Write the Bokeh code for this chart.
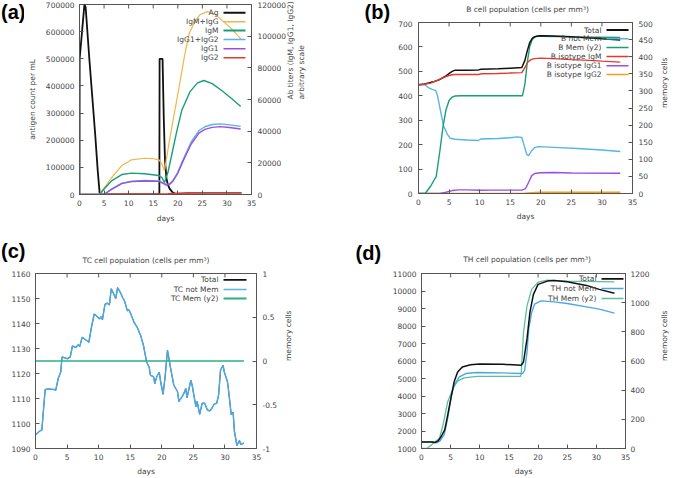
import math
from bokeh.plotting import figure
from bokeh.models import Range1d, LinearAxis, FixedTicker, Label, Arrow, NumeralTickFormatter, Spacer
from bokeh.layouts import column, row
from bokeh.embed import file_html
from bokeh.resources import INLINE

# ---------------- data ----------------
x_ticks = [0, 5, 10, 15, 20, 25, 30, 35]

# (a) antigen & antibodies
ag_days = [0, 0.03, 1.0, 1.25, 2.0, 2.6, 3.2, 3.7, 4.1, 4.4, 16.25, 16.3, 16.9, 17.15, 17.4, 17.7, 18.0, 18.4, 19.0, 19.5, 20.2, 21.0, 33.0]
ag_vals = [0, 500000, 700000, 690000, 500000, 360000, 220000, 90000, 5000, 0, 0, 500000, 500000, 280000, 125000, 58000, 35000, 20000, 7000, 2500, 500, 0, 0]
igmigg_days = [0, 4.0, 5.0, 6.6, 8.6, 10.6, 13.2, 15.0, 16.2, 16.8, 17.3, 18.3, 19.4, 20.5, 21.4, 22.3, 23.5, 24.5, 26.0, 27.5, 29.0, 31.0, 32.8]
igmigg_vals = [0, 0, 4000, 10900, 18300, 21900, 22900, 22600, 21900, 19000, 15000, 34000, 53000, 72000, 88000, 101500, 109500, 113500, 115500, 114000, 110000, 104500, 98300]
igm_days = [0, 4.1, 5.0, 6.6, 8.6, 10.6, 13.2, 16.2, 16.8, 17.3, 18.0, 18.9, 19.8, 20.8, 22.5, 24.0, 25.3, 27.0, 29.0, 31.0, 32.8]
igm_vals = [0, 0, 3500, 8800, 12600, 13500, 13100, 12000, 10500, 7500, 14000, 27000, 40000, 53000, 65000, 70500, 72000, 70000, 65500, 60500, 55600]
igg12_days = [0, 4.9, 5.5, 6.6, 8.6, 10.6, 13.2, 16.2, 17.0, 17.7, 18.3, 19.0, 20.0, 21.0, 22.7, 24.3, 25.5, 27.0, 28.6, 30.5, 32.8]
igg12_vals = [0, 0, 1200, 3600, 7200, 8400, 8800, 8600, 7300, 6300, 6600, 8800, 14000, 21500, 33000, 40400, 42800, 44200, 44600, 44000, 43000]
igg1_vals = [0, 0, 1100, 3400, 6900, 8100, 8500, 8300, 7000, 6000, 6300, 8400, 13400, 20600, 31700, 38800, 41100, 42400, 42900, 42300, 41400]
igg2_days = [0, 5, 10, 16, 18, 20, 22, 25, 33]
igg2_vals = [0, 0, 300, 400, 450, 800, 1100, 1200, 1200]

# (b) B cell population
btot_days = [0, 1, 2, 2.5, 3.35, 4.4, 5.2, 5.6, 6.0, 8, 9.8, 10.2, 13, 15, 16.9, 17.4, 17.8, 18.2, 18.6, 19.0, 19.5, 20, 22, 25, 28, 30, 33]
btot_vals = [445, 448, 455, 458, 465, 480, 495, 501, 505, 505, 506, 509, 511, 513, 516, 545, 585, 618, 635, 642, 645, 646, 645, 642, 637, 633, 628]
bnm_days = [0, 1, 1.7, 2.3, 2.8, 3.1, 3.6, 4.1, 4.7, 5.2, 6.0, 8, 9.8, 10.2, 13, 15, 16.1, 16.9, 17.3, 17.7, 18.0, 18.5, 19.0, 19.6, 20.5, 23, 26, 30, 33]
bnm_vals = [445, 445, 432, 425, 422, 402, 338, 277, 243, 226, 222, 219, 217, 223, 225, 228, 232, 229, 195, 160, 155, 175, 188, 192, 191, 188, 184, 178, 172]
bmem_days = [0, 1.1, 2, 2.9, 3.5, 4.0, 4.5, 5.0, 5.5, 6.0, 7, 17.0, 17.4, 17.8, 18.2, 18.6, 19.0, 19.5, 20, 25, 33]
bmem_vals = [0, 0, 22, 50, 125, 195, 245, 272, 282, 285, 286, 286, 320, 385, 430, 450, 457, 460, 460, 458, 456]
bigm_days = [0, 1, 2, 3, 4, 5, 5.5, 6, 8, 9.8, 10.2, 13, 15, 16.9, 17.4, 17.8, 18.2, 18.6, 19.0, 19.5, 20, 22, 25, 28, 30, 33]
bigm_vals = [445, 447, 452, 462, 474, 483, 486, 487, 487, 487, 490, 491, 493, 495, 515, 535, 545, 550, 552, 553, 554, 552, 548, 545, 542, 538]
bigg1_days = [0, 3.5, 4.5, 5.5, 6.5, 8, 10, 12, 16.9, 17.5, 18.0, 18.5, 19.0, 20, 22, 25, 33]
bigg1_vals = [0, 0, 5, 12, 15, 15, 13, 14, 14, 20, 45, 72, 82, 85, 86, 84, 83]
bigg2_days = [0, 17, 18, 19, 20, 33]
bigg2_vals = [0, 0, 2, 4, 5, 5]

# (c) TC cell population
tc_days = [0, 0.74, 1.0, 1.53, 2.0, 2.95, 3.2, 3.6, 4.0, 4.2, 4.6, 5.06, 5.5, 5.85, 6.4, 6.75, 7.0, 7.4, 8.1, 8.45,
           8.86, 9.3, 9.8, 10.1, 10.4, 10.6, 11.0, 11.4, 11.7, 12.0, 12.3, 12.7, 13.0, 13.4, 13.8, 14.1, 14.55, 14.8,
           15.1, 15.6, 16.1, 16.65, 17.1, 17.6, 18.0, 18.2, 18.7, 18.9, 19.2, 19.6, 19.8, 20.2, 20.5, 20.9, 21.1,
           21.4, 21.9, 22.5, 22.7, 23.2, 23.5, 23.8, 24.0, 24.6, 24.8, 25.4, 25.6, 26.0, 26.4, 26.8, 27.2, 27.6,
           28.0, 28.3, 28.7, 29.0, 29.3, 29.7, 29.9, 30.4, 30.6, 31.0, 31.3, 31.5, 31.9, 32.3, 32.5, 32.7, 33.0]
tc_vals = [1095.5, 1097.1, 1097.3, 1113.6, 1113.8, 1113.6, 1113.3, 1118.0, 1120.6, 1126.6, 1126.3, 1125.9, 1126.6,
           1131.0, 1130.4, 1131.5, 1130.8, 1134.5, 1133.2, 1132.5, 1138.5, 1143.8, 1142.8, 1141.8, 1142.7, 1141.5,
           1147.7, 1148.1, 1147.4, 1153.9, 1152.3, 1150.0, 1154.3, 1152.6, 1150.4, 1149.0, 1145.1, 1145.5, 1143.8,
           1140.5, 1138.5, 1135.2, 1131.2, 1124.6, 1122.6, 1119.3, 1118.7, 1116.0, 1118.7, 1120.6, 1117.0, 1111.7,
           1118.0, 1129.2, 1126.6, 1122.0, 1115.4, 1112.7, 1108.8, 1110.7, 1112.0, 1114.0, 1110.3, 1117.3, 1115.4,
           1106.8, 1108.8, 1103.7, 1108.1, 1108.1, 1105.5, 1105.0, 1106.4, 1107.8, 1108.1, 1111.4, 1121.3, 1123.3,
           1120.6, 1116.7, 1112.7, 1103.5, 1104.5, 1096.9, 1091.2, 1093.2, 1091.6, 1091.8, 1092.2]
tcmem_days = [0, 33]
tcmem_vals = [0, 0]

# (d) TH cell population
thtot_days = [0, 1.8, 2.3, 2.9, 3.4, 4.0, 4.5, 5.1, 5.6, 6.2, 7.0, 8.4, 10.0, 13.9, 17.1, 17.5, 18.1, 18.6, 19.2, 20.0, 21.6, 22.7, 25.0, 28.3, 30.5, 33.1]
thtot_vals = [1377, 1377, 1340, 1453, 1700, 2075, 2925, 3960, 4810, 5377, 5660, 5790, 5830, 5811, 5755, 5943, 7264, 8774, 9811, 10377, 10566, 10604, 10528, 10320, 10094, 9868]
thnm_days = [0, 1.9, 2.6, 3.15, 3.9, 4.5, 5.1, 5.6, 6.5, 7.6, 9.5, 13.9, 17.0, 17.4, 17.7, 18.1, 18.4, 18.9, 19.4, 20.5, 22.7, 25.0, 28.3, 30.5, 33.1]
thnm_vals = [1377, 1377, 1320, 1415, 1792, 2736, 3962, 4623, 5094, 5283, 5340, 5321, 5283, 5300, 5472, 6509, 7830, 8774, 9245, 9434, 9377, 9283, 9094, 8962, 8736]
thmem_days = [0, 0.94, 2.3, 3.1, 3.7, 4.5, 5.4, 6.2, 7.3, 9.5, 17.0, 17.1, 17.5, 18.1, 18.9, 20.0, 21.6, 25.0, 33.1]
thmem_vals = [0, 0, 45, 72, 163, 321, 412, 462, 484, 494, 494, 510, 797, 978, 1091, 1141, 1155, 1148, 1143]

# ---------------- style ----------------
FONT = "DejaVu Sans"
FS = "7.5px"
TXT = "#444444"
AXC = "#555555"
BLACK = "#111111"
ORANGE = "#efb648"
GREEN = "#17a078"
LBLUE = "#56b4e9"
PURPLE = "#9a4fe0"
RED = "#e5392a"


def style_axis(ax, ticks, fmt=None, label=None, standoff=5, lstandoff=5):
    ax.ticker = FixedTicker(ticks=ticks)
    ax.major_tick_in = 4
    ax.major_tick_out = 0
    ax.minor_tick_line_color = None
    ax.axis_line_color = AXC
    ax.major_tick_line_color = AXC
    ax.major_label_text_font = FONT
    ax.major_label_text_font_size = FS
    ax.major_label_text_color = TXT
    ax.major_label_standoff = standoff
    if fmt is not None:
        ax.formatter = fmt
    if label is not None:
        ax.axis_label = label
        ax.axis_label_text_font = FONT
        ax.axis_label_text_font_size = FS
        ax.axis_label_text_color = TXT
        ax.axis_label_text_font_style = "normal"
        ax.axis_label_standoff = lstandoff


def make_fig(w, h, bl, br, bt, bb, yr, y2r, lticks, rticks, lfmt, rfmt, llabel, rlabel,
             lst=5, llst=5, rst=5, rlst=5, bst=5, blst=5):
    p = figure(width=w, height=h, x_range=Range1d(0, 35), y_range=Range1d(*yr),
               output_backend="svg", toolbar_location=None,
               min_border_left=bl, min_border_right=br, min_border_top=bt, min_border_bottom=bb)
    p.grid.visible = False
    p.outline_line_color = AXC
    p.background_fill_color = "white"
    p.border_fill_color = "white"
    p.extra_y_ranges = {"y2": Range1d(*y2r)}
    style_axis(p.xaxis[0], x_ticks, None, "days", bst, blst)
    style_axis(p.yaxis[0], lticks, lfmt, llabel, lst, llst)
    ax2 = LinearAxis(y_range_name="y2")
    style_axis(ax2, rticks, rfmt, rlabel, rst, rlst)
    ax2.axis_label_orientation = math.pi / 2
    p.add_layout(ax2, "right")
    # mirrored ticks on the top border (4 px long)
    fh = h - bt - bb
    d = (yr[1] - yr[0]) * 4.0 / fh
    inner = x_ticks[1:-1]
    p.segment(x0=inner, y0=[yr[1]] * len(inner), x1=inner, y1=[yr[1] - d] * len(inner),
              line_color=AXC, line_width=1)
    return p


def add_legend(p, fl, fb, entries, xt, x0, x1, ys):
    for (txt, col, lw), y in zip(entries, ys):
        p.add_layout(Label(x=xt - fl, y=fb - y, x_units="screen", y_units="screen", text=txt,
                           text_align="right", text_baseline="middle", text_font=FONT,
                           text_font_size=FS, text_color=TXT))
        p.add_layout(Arrow(start=None, end=None, x_start=x0 - fl, y_start=fb - y, x_end=x1 - fl, y_end=fb - y,
                           start_units="screen", end_units="screen", line_color=col, line_width=lw))


def add_text(p, fl, fb, x, y, text, size=FS, bold=False, align="center", baseline="middle", font=FONT, color=TXT):
    p.add_layout(Label(x=x - fl, y=fb - y, x_units="screen", y_units="screen", text=text,
                       text_align=align, text_baseline=baseline, text_font=font, text_font_size=size,
                       text_font_style="bold" if bold else "normal", text_color=color))


def header(w, h):
    p = figure(width=w, height=h, x_range=Range1d(0, 1), y_range=Range1d(0, 1),
               output_backend="svg", toolbar_location=None, min_border=0,
               x_axis_location=None, y_axis_location=None)
    p.grid.visible = False
    p.outline_line_color = None
    p.border_fill_color = "white"
    return p


def letter(p, ox, oy, h, x, y, text):
    add_text(p, ox, oy + h, x, y, text, size="20px", bold=True, align="left", baseline="top",
             font="Liberation Sans", color="black")


# ---------------- (a) ----------------
hdr_a = header(24, 26)
letter(hdr_a, 0, 0, 26, 0.5, 0.5, "(a)")

pa = make_fig(314, 232, 50, 87, 4, 38, (0, 700000), (0, 120000),
              list(range(0, 700001, 100000)), list(range(0, 120001, 20000)),
              NumeralTickFormatter(format="0"), NumeralTickFormatter(format="0"),
              "antigen count per mL", "Ab titers (IgM, IgG1, IgG2)\narbitrary scale",
              lst=5, llst=6, rst=6, rlst=7, bst=5, blst=5)
pa.line(ag_days, ag_vals, line_color=BLACK, line_width=1.8)
pa.line(igmigg_days, igmigg_vals, line_color=ORANGE, line_width=1.2, y_range_name="y2")
pa.line(igm_days, igm_vals, line_color=GREEN, line_width=1.4, y_range_name="y2")
pa.line(igg12_days, igg12_vals, line_color=LBLUE, line_width=1.4, y_range_name="y2")
pa.line(igg12_days, igg1_vals, line_color=PURPLE, line_width=1.4, y_range_name="y2")
pa.line(igg2_days, igg2_vals, line_color=RED, line_width=1.4, y_range_name="y2")
add_legend(pa, 74, 194,
           [("Ag", BLACK, 2), ("IgM+IgG", ORANGE, 1.4), ("IgM", GREEN, 2), ("IgG1+IgG2", LBLUE, 1.6),
            ("IgG1", PURPLE, 1.6), ("IgG2", RED, 1.6)],
           213, 218, 240, [12.3, 21.3, 30.0, 39.0, 48.3, 57.3])

# ---------------- (b) ----------------
hdr_bl = header(57, 26)
letter(hdr_bl, 338, 0, 26, 364, 0.5, "(b)")
hdr_bt = header(281, 20)
add_text(hdr_bt, 395, 20, 527, 9, "B cell population (cells per mm\u00b3)")

pb = make_fig(281, 212, 22, 39, 2, 39, (0, 700), (0, 500),
              list(range(0, 701, 100)), list(range(0, 501, 50)), None, None,
              None, "memory cells", lst=6, llst=5, rst=6, rlst=9, bst=5, blst=4)
pb.line(bigg2_days, bigg2_vals, line_color="#eea020", line_width=1.4)
pb.line(bigg1_days, bigg1_vals, line_color=PURPLE, line_width=1.4)
pb.line(bnm_days, bnm_vals, line_color=LBLUE, line_width=1.4)
pb.line(bmem_days, bmem_vals, line_color=GREEN, line_width=1.4, y_range_name="y2")
pb.line(btot_days, btot_vals, line_color=BLACK, line_width=1.5)
pb.line(bigm_days, bigm_vals, line_color=RED, line_width=1.4)
add_legend(pb, 417, 193,
           [("Total", BLACK, 1.8), ("B not Mem", LBLUE, 1.6), ("B Mem (y2)", GREEN, 1.6),
            ("B isotype IgM", RED, 1.6), ("B isotype IgG1", PURPLE, 1.6), ("B isotype IgG2", "#eea020", 1.6)],
           600, 605, 627, [29.5, 38.3, 47.0, 56.0, 65.3, 74.0])

# ---------------- (c) ----------------
hdr_c = header(338, 36)
letter(hdr_c, 0, 232, 36, 0.5, 239, "(c)")
add_text(hdr_c, 0, 268, 145.5, 260, "TC cell population (cells per mm\u00b3)")

pc = make_fig(338, 210, 35, 82, 5, 28, (1090, 1160), (-1, 1),
              list(range(1090, 1161, 10)), [-1, -0.5, 0, 0.5, 1], None, NumeralTickFormatter(format="0.[0]"),
              None, "memory cells", lst=5, llst=5, rst=6, rlst=8, bst=5, blst=4)
pc.line(tc_days, tc_vals, line_color=BLACK, line_width=0.8)
pc.line(tc_days, tc_vals, line_color="#4ea8e0", line_width=1.5)
pc.line(tcmem_days, tcmem_vals, line_color="#2bb07e", line_width=1.6, y_range_name="y2")
add_legend(pc, 35, 450,
           [("Total", BLACK, 1.8), ("TC not Mem", LBLUE, 1.6), ("TC Mem (y2)", "#2bb07e", 2.2)],
           218, 223, 246, [281.3, 291.0, 300.0])

# ---------------- (d) ----------------
hdr_d = header(338, 36)
letter(hdr_d, 338, 232, 36, 355, 241, "(d)")
add_text(hdr_d, 338, 268, 526.5, 259, "TH cell population (cells per mm\u00b3)")

pd_ = make_fig(338, 210, 83, 44, 5, 28, (1000, 11000), (0, 1200),
               list(range(1000, 11001, 1000)), list(range(0, 1201, 200)), None, None,
               None, "memory cells", lst=5, llst=5, rst=5, rlst=12, bst=5, blst=4)
pd_.line(thmem_days, thmem_vals, line_color="#5cc09c", line_width=1.3, y_range_name="y2")
pd_.line(thnm_days, thnm_vals, line_color="#4aa8e6", line_width=1.4)
pd_.line(thtot_days, thtot_vals, line_color=BLACK, line_width=1.5)
add_legend(pd_, 421, 450,
           [("Total", BLACK, 1.8), ("TH not Mem", "#4aa8e6", 1.6), ("TH Mem (y2)", "#5cc09c", 1.6)],
           596, 601, 623, [280.3, 290.0, 300.0])

# wrap each piece in its own row so that frames are not aligned across a column
top = row(column(row(hdr_a), Spacer(width=24, height=206)), pa,
          column(row(hdr_bl), Spacer(width=57, height=206)),
          column(row(hdr_bt), row(pb)))
bottom = row(column(row(hdr_c), row(pc)), column(row(hdr_d), row(pd_)))
layout = column(top, bottom)
open("out.html", "w").write(file_html(layout, INLINE))
